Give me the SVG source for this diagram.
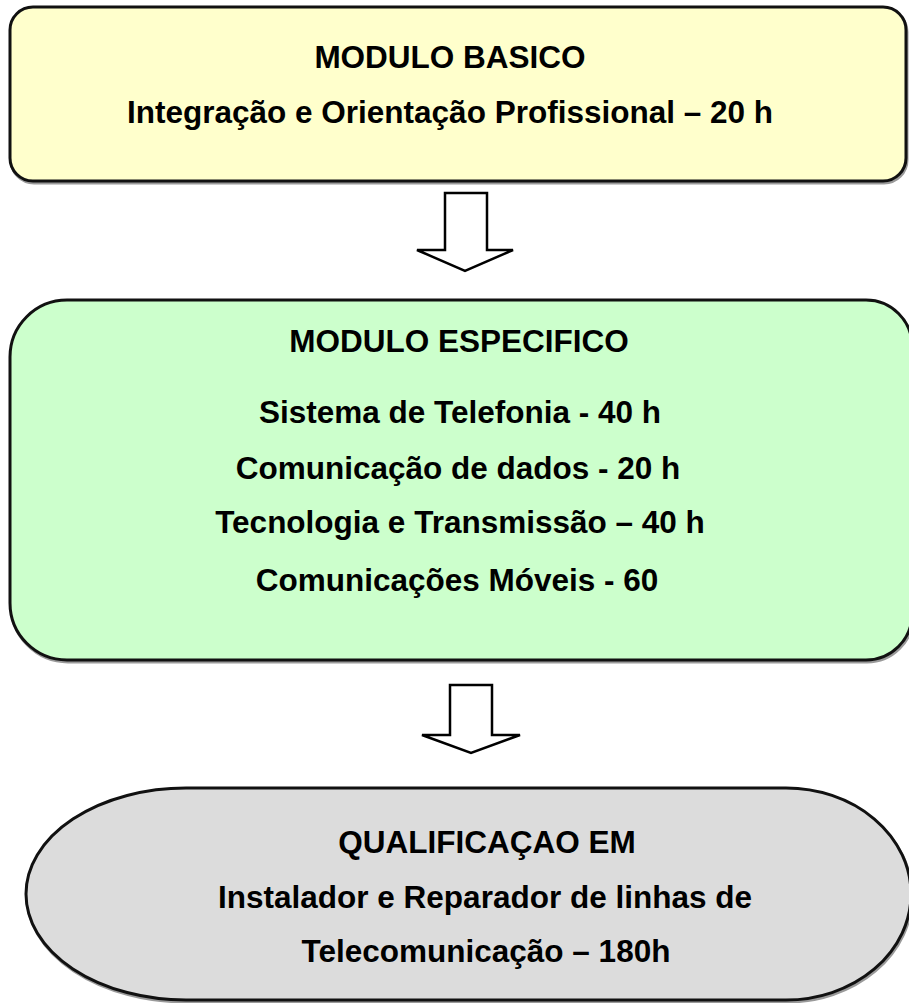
<svg xmlns="http://www.w3.org/2000/svg" width="909" height="1003" viewBox="0 0 909 1003">
<style>
.box{stroke:#111;stroke-width:3}
.shadow{fill:none;stroke:#9a9a9a;stroke-width:3}
.t{font-family:"Liberation Sans",Arial,sans-serif;font-weight:bold;font-size:31.5px;fill:#000;text-anchor:middle}
.arrow{fill:#fff;stroke:#000;stroke-width:2.5;stroke-linejoin:miter}
</style>
<rect width="909" height="1003" fill="#fff"/>
<g id="modulo-basico">
<rect class="shadow" x="11" y="9" width="896" height="174" rx="23" ry="23"/>
<rect class="box" x="10" y="7" width="896" height="174" rx="23" ry="23" fill="#FFFFCC"/>
<text class="t" x="450" y="68">MODULO BASICO</text>
<text class="t" x="450" y="123">Integração e Orientação Profissional – 20 h</text>
</g>
<g id="modulo-especifico">
<path class="shadow" d="M68 302 H867 A46 46 0 0 1 913 348 V616 A46 46 0 0 1 867 662 H68 A57 57 0 0 1 11 605 V359 A57 57 0 0 1 68 302 Z"/>
<path class="box" fill="#CCFFCC" d="M67 300 H866 A46 46 0 0 1 912 346 V614 A46 46 0 0 1 866 660 H67 A57 57 0 0 1 10 603 V357 A57 57 0 0 1 67 300 Z"/>
<text class="t" x="459" y="352">MODULO ESPECIFICO</text>
<text class="t" x="460" y="423">Sistema de Telefonia - 40 h</text>
<text class="t" x="458" y="479">Comunicação de dados - 20 h</text>
<text class="t" x="460" y="533">Tecnologia e Transmissão – 40 h</text>
<text class="t" x="457" y="591">Comunicações Móveis - 60</text>
</g>
<g id="qualificacao">
<path class="shadow" d="M187 790 H787 A125 106 0 0 1 912 896 A125 106 0 0 1 787 1002 H187 A160 106 0 0 1 27 896 A160 106 0 0 1 187 790 Z"/>
<path class="box" fill="#DCDCDC" d="M186 788 H786 A125 106 0 0 1 911 894 A125 106 0 0 1 786 1000 H186 A160 106 0 0 1 26 894 A160 106 0 0 1 186 788 Z"/>
<text class="t" x="487" y="853">QUALIFICAÇAO EM</text>
<text class="t" x="485" y="908">Instalador e Reparador de linhas de</text>
<text class="t" x="486" y="962">Telecomunicação – 180h</text>
</g>
<g id="connectors">
<polygon class="arrow" points="445,193 487,193 487,250 513,250 465,271 417,250 445,250"/>
<polygon class="arrow" points="450,685 492,685 492,735 520,735 471,753 422,735 450,735"/>
</g>
</svg>
